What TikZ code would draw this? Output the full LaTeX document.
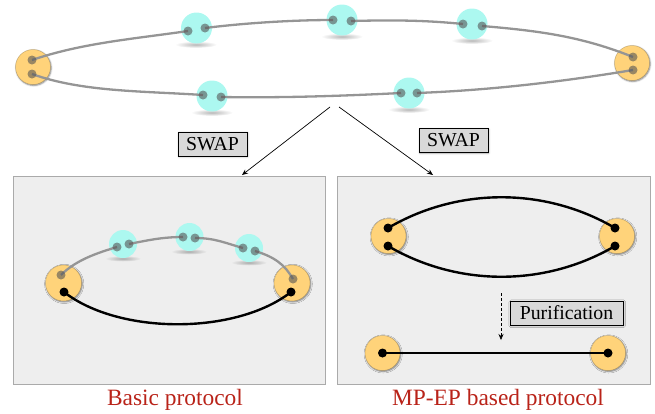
\documentclass[tikz,border=0pt]{standalone}
\usepackage{fontspec}
\setmainfont{Liberation Serif}
\usetikzlibrary{shadows.blur,fadings,arrows.meta}
\definecolor{orng}{HTML}{FFD37A}
\definecolor{cyn}{HTML}{ACF8F0}
\definecolor{lnk}{HTML}{959595}
\definecolor{dotg}{HTML}{555555}
\definecolor{panelfill}{HTML}{EEEEEE}
\definecolor{panelline}{HTML}{AAAAAA}
\definecolor{boxfill}{HTML}{D9D9D9}
\definecolor{capred}{RGB}{185,35,25}
\tikzfading[name=shadowfade, inner color=transparent!0, outer color=transparent!100]
\begin{document}
\begin{tikzpicture}[x=1pt,y=-1pt,
  onode/.style={circle, fill=orng, draw=orng!60!black, draw opacity=0.5, line width=0.5pt, minimum size=#1, inner sep=0pt,
    blur shadow={shadow xshift=0.7pt, shadow yshift=-0.9pt, shadow blur steps=5, shadow blur radius=1.6pt, shadow opacity=50}},
  onode/.default=35pt,
  cnode/.style={circle, fill=cyn, minimum size=#1, inner sep=0pt},
  cnode/.default=31pt,
  gdot/.style={circle, fill=dotg, fill opacity=0.6, minimum size=9pt, inner sep=0pt},
  bdot/.style={circle, fill=black, minimum size=9pt, inner sep=0pt},
  glink/.style={draw=lnk, line width=2.3pt},
  blink/.style={draw=black, line width=2.4pt},
  panel/.style={rectangle, fill=panelfill, draw=panelline, line width=0.8pt, inner sep=0pt},
  opbox/.style={rectangle, fill=boxfill, draw=black, line width=0.6pt, inner sep=0pt,
    minimum height=24pt, font=\fontsize{19.8}{22}\selectfont,
    blur shadow={shadow xshift=0.8pt, shadow yshift=-0.8pt, shadow blur steps=3, shadow opacity=35}},
  caption/.style={text=capred, font=\fontsize{23.4}{28}\selectfont, anchor=base, inner sep=0pt},
  arr/.style={draw=black, line width=0.7pt, -{Stealth[length=6pt,width=5pt]}}
]
\useasboundingbox (0,0) rectangle (655,413);

% panels
\node[panel, minimum width=312pt, minimum height=208pt] (P1) at (169,280) {};
\node[panel, minimum width=313pt, minimum height=208pt] (P2) at (493.5,280) {};

% cyan shadows (top)
\foreach \x/\y in {196/28, 342/20, 472/24, 212/96, 409/93}
  \fill[black, opacity=0.28, path fading=shadowfade] (\x,\y+16.5) ellipse (21 and 3.4);
% cyan shadows (left panel)
\foreach \x/\y in {123/244, 189/237, 249/248}
  \fill[black, opacity=0.28, path fading=shadowfade] (\x,\y+14.5) ellipse (18 and 3);

% ---- top chain ----
\node[onode] (L) at (33,67) {};
\node[onode] (R) at (632,63) {};
\node[cnode] (c1) at (196.5,28) {};
\node[cnode] (c2) at (342,20) {};
\node[cnode] (c3) at (472,24) {};
\node[cnode] (c4) at (212,96) {};
\node[cnode] (c5) at (409,93) {};

\coordinate (La) at (32,60);  \coordinate (Lb) at (32,74);
\coordinate (Ra) at (633,57); \coordinate (Rb) at (633,70);
\coordinate (c1a) at (188,31); \coordinate (c1b) at (205,28);
\coordinate (c2a) at (333,20); \coordinate (c2b) at (351,21);
\coordinate (c3a) at (463,24); \coordinate (c3b) at (482,26);
\coordinate (c4a) at (203,95); \coordinate (c4b) at (221,97);
\coordinate (c5a) at (401,93); \coordinate (c5b) at (417,93);

\path[glink] (La) .. controls +(50,-17) and +(-55,8) .. (c1a);
\path[glink] (c1b) .. controls +(40,-5) and +(-40,0) .. (c2a);
\path[glink] (c2b) .. controls +(40,-1) and +(-40,-4) .. (c3a);
\path[glink] (c3b) .. controls +(60,5) and +(-50,-20) .. (Ra);
\path[glink] (Lb) .. controls +(50,18) and +(-60,-4) .. (c4a);
\path[glink] (c4b) .. controls +(60,1) and +(-60,3) .. (c5a);
\path[glink] (c5b) .. controls +(80,-3) and +(-60,10) .. (Rb);

\foreach \d in {La,Lb,Ra,Rb,c1a,c1b,c2a,c2b,c3a,c3b,c4a,c4b,c5a,c5b}
  \node[gdot] at (\d) {};

% ---- SWAP arrows ----
\coordinate (s1) at (330,107);
\coordinate (s2) at (339,107);
\coordinate (e1) at (242,175);
\coordinate (e2) at (433,175);
\draw[arr] (s1) -- (e1);
\draw[arr] (s2) -- (e2);
\node[opbox, minimum width=69pt] (sw1) at (212.5,144) {SWAP};
\node[opbox, minimum width=69pt] (sw2) at (453.5,140.5) {SWAP};

% ---- left panel: basic protocol ----
\node[onode=36pt] (L1) at (63.5,283) {};
\node[onode=36pt] (R1) at (292,283) {};
\node[cnode=28pt] (d1) at (123,244) {};
\node[cnode=28pt] (d2) at (189.5,237) {};
\node[cnode=28pt] (d3) at (249,248) {};
\coordinate (L1a) at (61,275); \coordinate (L1b) at (64,292);
\coordinate (R1a) at (293,279); \coordinate (R1b) at (291,292);
\coordinate (d1a) at (117,247); \coordinate (d1b) at (129,244);
\coordinate (d2a) at (183,237); \coordinate (d2b) at (195,238);
\coordinate (d3a) at (243,248); \coordinate (d3b) at (255,251);

\path[glink] (L1a) .. controls +(15,-15) and +(-20,6) .. (d1a);
\path[glink] (d1b) .. controls +(20,-4) and +(-20,0) .. (d2a);
\path[glink] (d2b) .. controls +(20,0) and +(-18,-5) .. (d3a);
\path[glink] (d3b) .. controls +(20,6) and +(-8,-14) .. (R1a);
\path[blink] (L1b) .. controls +(55,43) and +(-55,43) .. (R1b);
\foreach \d in {L1a,R1a,d1a,d1b,d2a,d2b,d3a,d3b}
  \node[gdot] at (\d) {};
\foreach \d in {L1b,R1b}
  \node[bdot] at (\d) {};

% ---- right panel: MP-EP ----
\node[onode] (M1) at (388.5,236) {};
\node[onode] (M2) at (617,236) {};
\coordinate (M1a) at (388,228); \coordinate (M1b) at (388,246);
\coordinate (M2a) at (615,228); \coordinate (M2b) at (615,246);
\path[blink] (M1a) .. controls +(70,-41) and +(-70,-41) .. (M2a);
\path[blink] (M1b) .. controls +(70,41) and +(-70,41) .. (M2b);
\foreach \d in {M1a,M1b,M2a,M2b}
  \node[bdot] at (\d) {};

\node[onode] (N1) at (382.5,353) {};
\node[onode] (N2) at (608,353) {};
\path[blink] (N1.center) -- (N2.center);
\node[bdot] at (N1.center) {};
\node[bdot] at (N2.center) {};

\coordinate (pa) at (501,293);
\coordinate (pb) at (501,340);
\draw[arr, densely dashed, line width=0.6pt] (pa) -- (pb);
\node[opbox, minimum width=113pt] (pur) at (566.5,313) {Purification};

% captions
\node[caption] (cap1) at (175,405) {Basic protocol};
\node[caption] (cap2) at (498,405) {MP-EP based protocol};
\end{tikzpicture}
\end{document}
